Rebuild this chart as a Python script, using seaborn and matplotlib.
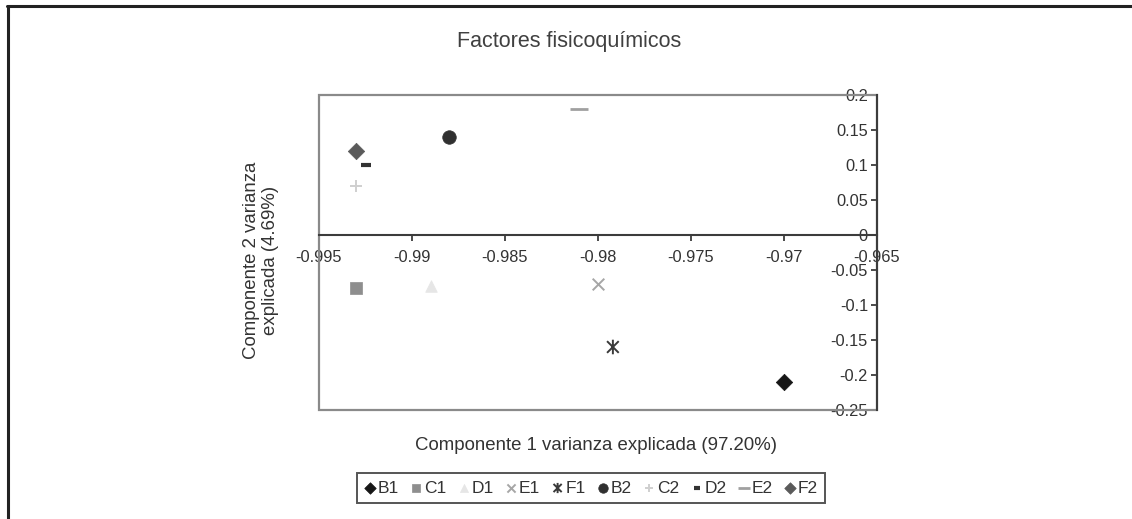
import matplotlib
matplotlib.use("Agg")
import matplotlib.pyplot as plt
from matplotlib.lines import Line2D
from matplotlib.patches import Rectangle
from matplotlib.path import Path
from matplotlib.ticker import FixedLocator, FuncFormatter
import seaborn as sns

# Sample scores on the first two principal components
samples = ["B1", "C1", "D1", "E1", "F1", "B2", "C2", "D2", "E2", "F2"]
comp1 = [-0.970, -0.993, -0.989, -0.980, -0.9792, -0.988, -0.993, -0.9925, -0.981, -0.993]
comp2 = [-0.210, -0.075, -0.073, -0.070, -0.160, 0.140, 0.070, 0.100, 0.180, 0.120]

x_ticks = [-0.995, -0.99, -0.985, -0.98, -0.975, -0.97, -0.965]
y_ticks = [0.2, 0.15, 0.1, 0.05, 0, -0.05, -0.1, -0.15, -0.2, -0.25]

title = "Factores fisicoquímicos"
x_label = "Componente 1 varianza explicada (97.20%)"
y_label = "Componente 2 varianza\nexplicada (4.69%)"

# Asterisk: an "x" crossed by a vertical stroke
asterisk = Path(
    [(-1, -1), (1, 1), (-1, 1), (1, -1), (0, -1.25), (0, 1.25)],
    [Path.MOVETO, Path.LINETO, Path.MOVETO, Path.LINETO, Path.MOVETO, Path.LINETO],
)

# marker, colour, size (pt^2), line width, kind
styles = {
    "B1": ("D", "#161616", 70, 0, "filled"),
    "C1": ("s", "#8e8e8e", 80, 0, "filled"),
    "D1": ("^", "#e6e6e6", 70, 0, "filled"),
    "E1": ("x", "#a6a6a6", 70, 1.4, "line"),
    "F1": (asterisk, "#3a3a3a", 110, 1.4, "path"),
    "B2": ("o", "#303030", 95, 0, "filled"),
    "C2": ("+", "#cfcfcf", 80, 1.4, "line"),
    "D2": ("_", "#333333", 45, 3.0, "line"),
    "E2": ("_", "#a0a0a0", 150, 2.0, "line"),
    "F2": ("D", "#5a5a5a", 70, 0, "filled"),
}

sns.set_style("white")
plt.rcParams["font.family"] = ["Liberation Sans", "DejaVu Sans"]
plt.rcParams["text.color"] = "#3a3a3a"

fig = plt.figure(figsize=(11.32, 5.19), dpi=100)
ax = fig.add_axes([319 / 1132, 1 - 410 / 519, (877 - 319) / 1132, (410 - 95) / 519])

for name, x, y in zip(samples, comp1, comp2):
    marker, color, size, lw, kind = styles[name]
    if kind == "filled":
        sns.scatterplot(x=[x], y=[y], ax=ax, marker=marker, color=color, s=size,
                        edgecolor=color, linewidth=0.5, label=name, zorder=5)
    elif kind == "path":
        sns.scatterplot(x=[x], y=[y], ax=ax, marker=marker, s=size,
                        facecolor="none", edgecolor=color,
                        linewidth=lw, label=name, zorder=5)
    else:
        sns.scatterplot(x=[x], y=[y], ax=ax, marker=marker, color=color, s=size,
                        linewidth=lw, label=name, zorder=5)

ax.set_xlim(-0.995, -0.965)
ax.set_ylim(-0.25, 0.2)
ax.xaxis.set_major_locator(FixedLocator(x_ticks))
ax.yaxis.set_major_locator(FixedLocator(y_ticks))
fmt = FuncFormatter(lambda v, _: "0" if abs(v) < 1e-12 else f"{v:g}")
ax.xaxis.set_major_formatter(fmt)
ax.yaxis.set_major_formatter(fmt)

# Axes cross inside the plot area: y axis at the right end, x axis at zero
ax.spines["left"].set_position(("data", -0.965))
ax.spines["bottom"].set_position(("data", 0))
ax.spines["right"].set_visible(False)
ax.spines["top"].set_visible(False)
for side in ("left", "bottom"):
    ax.spines[side].set_color("#3c3c3c")
    ax.spines[side].set_linewidth(1.5)
    ax.spines[side].set_zorder(3)

# Plot-area border
ax.add_patch(Rectangle((0, 0), 1, 1, transform=ax.transAxes, fill=False,
                       edgecolor="#8a8a8a", linewidth=1.6, zorder=1, clip_on=False))

ax.tick_params(axis="x", direction="out", length=4, width=1.3, color="#3c3c3c",
               pad=7, labelsize=11.8, labelcolor="#333333", bottom=True)
ax.tick_params(axis="y", direction="out", length=4.5, width=1.3, color="#3c3c3c",
               pad=2, labelsize=11.8, labelcolor="#333333", left=True)
ax.set_xlabel("")
ax.set_ylabel("")
leg = ax.get_legend()
handles, labels = ax.get_legend_handles_labels()
if leg is not None:
    leg.remove()

fig.text(569 / 1132, 1 - 42 / 519, title, ha="center", va="center",
         fontsize=15.5, color="#404040")
fig.text(596 / 1132, 1 - 445 / 519, x_label, ha="center", va="center",
         fontsize=13.4, color="#333333")
fig.text(261 / 1132, 1 - 260 / 519, y_label, ha="center", va="center",
         rotation=90, fontsize=13.4, color="#333333", linespacing=1.15)

fig.legend(handles, labels, ncol=10, loc="center",
           bbox_to_anchor=(591 / 1132, 1 - 488 / 519), frameon=True, fancybox=False,
           edgecolor="#2a2a2a", fontsize=12.5, handlelength=0.7, handletextpad=0.1,
           columnspacing=0.65, borderpad=0.4, markerscale=0.7)
fig.legends[0].get_frame().set_linewidth(1.4)
for t in fig.legends[0].get_texts():
    t.set_color("#333333")

# Outer frame lines along the top and left edges
fig.add_artist(Line2D([7 / 1132, 1], [1 - 5.5 / 519] * 2, color="#222222", linewidth=2.2))
fig.add_artist(Line2D([8 / 1132] * 2, [0, 1 - 5.5 / 519], color="#222222", linewidth=2.2))

fig.savefig("out.png", dpi=100, facecolor="white")
